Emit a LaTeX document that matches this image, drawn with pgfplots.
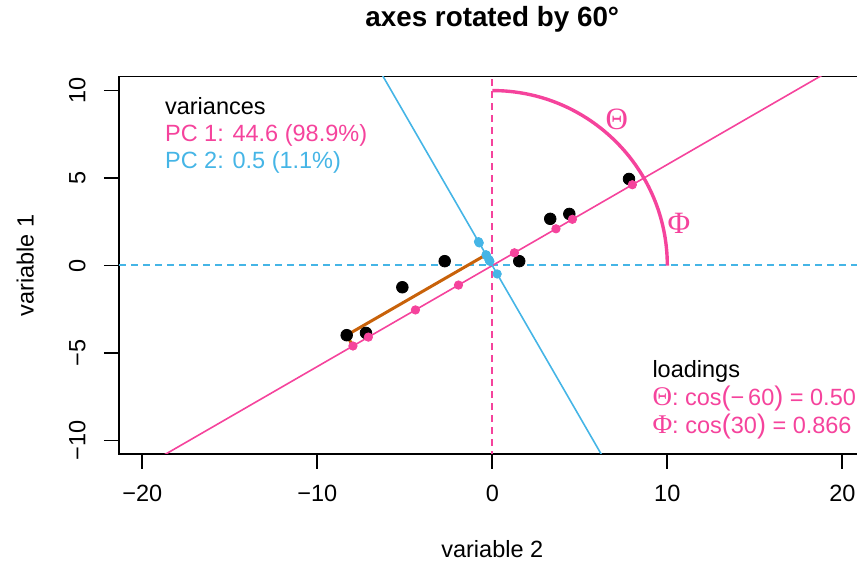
\documentclass[border=0pt]{standalone}
\usepackage{pgfplots}
\pgfplotsset{compat=1.18}
\usepackage{fontspec}
\setmainfont{Liberation Sans}
\newfontfamily\grk{Liberation Serif}
\definecolor{pk}{HTML}{F5439C}
\definecolor{bl}{HTML}{45B5E6}
\definecolor{orng}{HTML}{C8620A}
\begin{document}
\begin{tikzpicture}[font=\fontsize{11.75}{14}\selectfont]
\begin{axis}[
 scale only axis, width=373.3pt, height=188.7pt,
 xmin=-21.33, xmax=21.33, ymin=-10.77, ymax=10.8,
 axis line style={line width=0.9pt},
 tick style={line width=0.9pt, black},
 tick align=outside, major tick length=7.5pt,
 tick pos=left,
 xtick={-20,-10,0,10,20}, xticklabels={−20,−10,0,10,20},
 ytick={-10,-5,0,5,10}, yticklabels={−10,−5,0,5,10},
 xticklabel style={anchor=base, inner sep=0pt},
 yticklabel style={rotate=90, anchor=base, inner sep=0pt},
 xticklabel shift=16.2pt,
 yticklabel shift=9.3pt,
 xlabel={variable 2}, ylabel={variable 1},
 every axis x label/.style={at={(axis description cs:0.5,-0.274)}, anchor=base},
 every axis y label/.style={at={(axis description cs:-0.1145,0.5)}, anchor=base, rotate=90},
 title={axes rotated by 60°},
 every axis title/.style={at={(axis description cs:0.5,1.1325)}, anchor=base, font=\bfseries\fontsize{13.9}{16}\selectfont},
]
% reference dashed axes
\addplot[pk, line width=1pt, dash pattern=on 3.5pt off 2.5pt] coordinates {(0,-11) (0,11)};
\addplot[bl, line width=1.1pt, dash pattern=on 3.5pt off 2.5pt] coordinates {(-22,0.02) (22,0.02)};
% PC lines
\addplot[pk, line width=0.8pt] coordinates {(-25,-14.434) (25,14.434)};
\addplot[bl, line width=0.8pt] coordinates {(-8,13.856) (8,-13.856)};
% data
\addplot[only marks, mark=*, mark size=2.9pt, mark options={fill=black, draw=black}] coordinates {
(-8.32,-3.98) (-7.22,-3.85) (-5.14,-1.24) (-2.72,0.25) (1.54,0.25) (3.31,2.67) (4.40,2.95) (7.81,4.95)};
% decomposition of the first point
\addplot[orng, line width=1.5pt] coordinates {(-7.963,-4.598) (-8.32,-3.98) (-0.357,0.618)};
% projections on PC1
\addplot[only marks, mark=*, mark size=2.1pt, mark options={fill=pk, draw=pk}] coordinates {
(-7.963,-4.598) (-7.082,-4.089) (-4.392,-2.536) (-1.932,-1.115) (1.263,0.729) (3.638,2.101) (4.577,2.643) (8.002,4.620)};
% projections on PC2
\addplot[only marks, mark=*, mark size=2.1pt, mark options={fill=bl, draw=bl}] coordinates {
(-0.357,0.618) (-0.138,0.239) (-0.748,1.296) (-0.788,1.365) (0.277,-0.480) (-0.329,0.569) (-0.177,0.307) (-0.191,0.331)};
% arc
\draw[pk, line width=1.7pt] (axis cs:10,0) arc[start angle=0, end angle=90, radius=87.5pt];
\node[text=pk, font=\grk\fontsize{15.5}{16}\selectfont] at (axis cs:7.11,8.34) {Θ};
\node[text=pk, font=\grk\fontsize{15.5}{16}\selectfont] at (axis cs:10.67,2.44) {Φ};
% texts
\node[anchor=base west] at (axis cs:-19.1,8.63) {variances};
\node[anchor=base west, text=pk] at (axis cs:-19.1,7.09) {PC 1: 44.6 (98.9\%)};
\node[anchor=base west, text=bl] at (axis cs:-19.1,5.54) {PC 2: 0.5 (1.1\%)};
\node[anchor=base west] at (axis cs:8.75,-6.4) {loadings};
\node[anchor=base west, text=pk] at (axis cs:8.75,-8.0) {{\grk\fontsize{13.5}{14}\selectfont Θ}: cos{\fontsize{13.5}{14}\selectfont(}−\,60{\fontsize{13.5}{14}\selectfont)} = 0.50};
\node[anchor=base west, text=pk] at (axis cs:8.75,-9.6) {{\grk\fontsize{13.5}{14}\selectfont Φ}: cos{\fontsize{13.5}{14}\selectfont(}30{\fontsize{13.5}{14}\selectfont)} = 0.866};
\end{axis}
\pgfresetboundingbox
\path[use as bounding box] (current axis.south west) ++(-59.5pt,-56pt) rectangle ++(428.5pt,283pt);
\end{tikzpicture}
\end{document}
